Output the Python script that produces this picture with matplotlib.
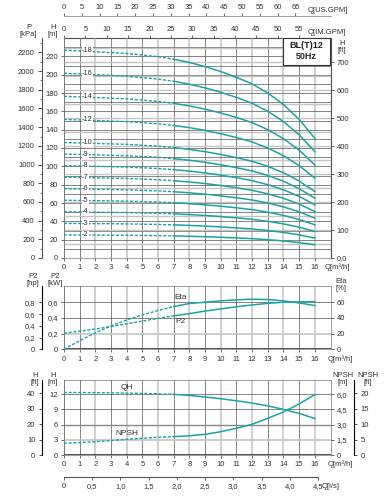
import numpy as np
import matplotlib
matplotlib.use('Agg')
import matplotlib.pyplot as plt
from matplotlib.patches import Rectangle

plt.rcParams['font.family'] = ['Liberation Sans', 'DejaVu Sans']
plt.rcParams['font.size'] = 5.5
plt.rcParams['text.color'] = '#333333'
plt.rcParams['xtick.color'] = '#333333'
plt.rcParams['ytick.color'] = '#333333'

# flow points [m3/h]
q = [0, 1, 2, 3, 4, 5, 6, 7, 8, 9, 10, 11, 12, 13, 14, 15, 16]
# head of one stage [m] (main chart)
h_stage = [12.6, 12.55, 12.5, 12.45, 12.4, 12.3, 12.2, 12.05, 11.85, 11.6,
           11.3, 10.95, 10.55, 10.0, 9.3, 8.4, 7.25]
stages = [18, 16, 14, 12, 10, 9, 8, 7, 6, 5, 4, 3, 2]
# power and efficiency
p2_kw = [0.205, 0.23, 0.258, 0.29, 0.325, 0.36, 0.393, 0.425, 0.455, 0.487,
         0.515, 0.542, 0.565, 0.585, 0.6, 0.605, 0.607]
eta = [0, 11, 21, 29.8, 37.4, 43.8, 49.4, 54.5, 58.3, 60, 61.7, 63, 63.8,
       63.4, 61.7, 59, 55.7]
# single stage QH and NPSH (bottom chart)
qh = [12.35, 12.33, 12.3, 12.27, 12.22, 12.15, 12.07, 11.97, 11.75, 11.45,
      11.1, 10.7, 10.25, 9.7, 9.0, 8.2, 7.2]
npsh = [1.16, 1.23, 1.31, 1.43, 1.55, 1.65, 1.75, 1.81, 1.9, 2.04, 2.3,
        2.64, 3.03, 3.62, 4.25, 5.04, 5.96]

teal = '#1aa3a6'
dark = '#555555'
light = '#c4c4c4'
W_PX, H_PX = 391, 500
K = 7  # index where dashed part ends


def ftxt(x, y, s, **kw):
    kw.setdefault('ha', 'center')
    kw.setdefault('va', 'center')
    fig.text(x / W_PX, 1 - y / H_PX, s, linespacing=0.95, **kw)


def curve(ax, x, y):
    ax.plot(x[:K + 1], y[:K + 1], color=teal, lw=1.0, dashes=(2.2, 1.2), zorder=3)
    ax.plot(x[K:], y[K:], color=teal, lw=1.1, zorder=3)


def style(ax):
    ax.set_xlim(0, 17)
    ax.set_xticks(range(0, 17))
    ax.tick_params(length=2.5, width=0.5, pad=2, labelsize=5.5)
    for i in range(0, 17):
        c, w = (light, 1.1) if i % 2 == 0 and i > 0 else (dark, 0.5)
        ax.axvline(i, color=c, lw=w, zorder=1)
    for s in ax.spines.values():
        s.set_color('#777777')
        s.set_linewidth(0.5)


fig = plt.figure(figsize=(3.91, 5.0), dpi=100)
L = 64 / W_PX
WD = 266.5 / W_PX
ax1 = fig.add_axes([L, 1 - 258 / H_PX, WD, 220 / H_PX])
ax2 = fig.add_axes([L, 1 - 349.3 / H_PX, WD, 63.6 / H_PX])
ax3 = fig.add_axes([L, 1 - 455 / H_PX, WD, 75 / H_PX])

# ---------------- main chart ----------------
style(ax1)
ax1.set_ylim(0, 240)
ax1.set_yticks(range(0, 221, 20))
for m in range(10, 240, 10):
    ax1.axhline(m, color=dark, lw=0.5, zorder=1)
for ft in range(50, 790, 50):
    ax1.axhline(ft * 0.3048, color=light, lw=1.0, zorder=1)
for n in stages:
    hh = [n * h for h in h_stage]
    curve(ax1, q, hh)
    ax1.text(1.15, n * h_stage[1], '-' + str(n), fontsize=5.3, va='center', ha='left',
             bbox=dict(facecolor='white', edgecolor='none', pad=0.3), zorder=4)

ax1.add_patch(Rectangle((14.0, 211), 2.95, 29, facecolor='white', edgecolor='#333333',
                        lw=0.8, zorder=5))
ax1.text(15.47, 225.5, 'BL(T)12\n50Hz', ha='center', va='center', fontsize=6.5,
         fontweight='bold', zorder=6, linespacing=1.3, color='#222222')

kpa = ax1.secondary_yaxis(-0.084, functions=(lambda h: h * 9.81, lambda p: p / 9.81))
kpa.set_yticks(range(0, 2201, 200))
kpa.set_yticks(range(0, 2301, 100), minor=True)
kpa.tick_params(length=3, width=0.6, labelsize=5.5, pad=2)
kpa.tick_params(which='minor', length=1.8, width=0.5)
kpa.spines['left'].set_color('#555555')

hft = ax1.secondary_yaxis('right', functions=(lambda h: h / 0.3048, lambda f: f * 0.3048))
hft.set_yticks(range(0, 701, 100))
hft.set_yticklabels(['0,0'] + [str(v) for v in range(100, 701, 100)])
hft.tick_params(length=2.5, width=0.5, labelsize=5.5, pad=2)

im = ax1.secondary_xaxis('top', functions=(lambda x: x * 3.6662, lambda g: g / 3.6662))
im.set_xticks(range(0, 56, 5))
im.tick_params(length=2, width=0.5, labelsize=5.5, pad=1.5)
us = ax1.secondary_xaxis(1.1, functions=(lambda x: x * 4.4029, lambda g: g / 4.4029))
us.set_xticks(range(0, 66, 5))
us.tick_params(length=2, width=0.5, labelsize=5.5, pad=1.5)
us.spines['top'].set_color('#777777')
us.spines['top'].set_linewidth(0.5)

ftxt(28.5, 31, 'P\n[kPa]')
ftxt(53, 31, 'H\n[m]')
ftxt(342, 47, 'H\n[ft]')
ftxt(308, 11, 'Q[US.GPM]', ha='left')
ftxt(308, 32, 'Q[IM.GPM]', ha='left')
ftxt(325, 267, 'Q[m³/h]', ha='left')

# ---------------- power / efficiency ----------------
style(ax2)
ax2.set_ylim(0, 0.81)
ax2.set_yticks([0, 0.2, 0.4, 0.6])
ax2.set_yticklabels(['0', '0,2', '0,4', '0,6'])
ax2.axhline(0.2, color=light, lw=1.2, zorder=1)
ax2.axhline(0.4, color=dark, lw=0.5, zorder=1)
ax2.axhline(0.6, color=dark, lw=0.5, zorder=1)
ax2.axhline(0, color='#333333', lw=1.2, zorder=2)
ax_eta = ax2.twinx()
ax_eta.set_ylim(0, 81)
ax_eta.set_yticks([0, 20, 40, 60])
ax_eta.tick_params(length=2.5, width=0.5, labelsize=5.5, pad=2)
for s in ax_eta.spines.values():
    s.set_visible(False)
curve(ax2, q, p2_kw)
curve(ax_eta, q, eta)
ax2.text(7.05, 0.655, 'Eta', fontsize=6, ha='left', va='center')
ax2.text(7.1, 0.36, 'P2', fontsize=6, ha='left', va='center')

hp = ax2.secondary_yaxis(-0.084, functions=(lambda k: k / 0.7457, lambda h: h * 0.7457))
hp.set_yticks([0, 0.2, 0.4, 0.6, 0.8])
hp.set_yticklabels(['0', '0,2', '0,4', '0,6', '0,8'])
hp.tick_params(length=2.5, width=0.6, labelsize=5.5, pad=2)
ftxt(33, 280, 'P2\n[hp]')
ftxt(55, 280, 'P2\n[kW]')
ftxt(341, 285, 'Eta\n[%]')
ftxt(328, 359, 'Q[m³/h]', ha='left')

# ---------------- QH / NPSH ----------------
style(ax3)
ax3.set_ylim(0, 14.8)
ax3.set_yticks([0, 3, 6, 9, 12])
ax3.axhline(3, color=light, lw=1.2, zorder=1)
ax3.axhline(6, color='#888888', lw=1.0, zorder=1)
ax3.axhline(9, color=dark, lw=0.5, zorder=1)
ax3.axhline(12, color=dark, lw=0.5, zorder=1)
ax3.axhline(0, color='#333333', lw=1.2, zorder=2)
ax_np = ax3.twinx()
ax_np.set_ylim(0, 7.4)
ax_np.set_yticks([0, 1.5, 3, 4.5, 6])
ax_np.set_yticklabels(['0', '1,5', '3,0', '4,5', '6,0'])
ax_np.tick_params(length=2.5, width=0.5, labelsize=5.5, pad=2)
for s in ax_np.spines.values():
    s.set_visible(False)
curve(ax3, q, qh)
curve(ax_np, q, npsh)
ax3.text(4.0, 13.3, 'QH', fontsize=6, ha='center', va='center')
ax3.text(4.0, 4.3, 'NPSH', fontsize=6, ha='center', va='center')

hft3 = ax3.secondary_yaxis(-0.084, functions=(lambda h: h / 0.3048, lambda f: f * 0.3048))
hft3.set_yticks([0, 10, 20, 30, 40])
hft3.tick_params(length=2.5, width=0.6, labelsize=5.5, pad=2)
npft = ax_np.secondary_yaxis(1.09, functions=(lambda m: m / 0.3048, lambda f: f * 0.3048))
npft.set_yticks([0, 5, 10, 15, 20])
npft.tick_params(length=2.5, width=0.6, labelsize=5.5, pad=2)

ls = ax3.secondary_xaxis(-0.289, functions=(lambda x: x / 3.6, lambda l: l * 3.6))
ls.set_xticks([0, 0.5, 1, 1.5, 2, 2.5, 3, 3.5, 4, 4.5])
ls.set_xticklabels(['0', '0,5', '1,0', '1,5', '2,0', '2,5', '3,0', '3,5', '4,0', '4,5'])
ls.tick_params(length=2.5, width=0.5, labelsize=5.5, pad=2)
ls.spines['bottom'].set_bounds(0, 4.5)
ls.spines['bottom'].set_color('#555555')

ftxt(35, 379, 'H\n[ft]')
ftxt(53, 379, 'H\n[m]')
ftxt(343, 379, 'NPSH\n[m]')
ftxt(368, 379, 'NPSH\n[ft]')
ftxt(328, 464, 'Q[m³/h]', ha='left')
ftxt(322, 487, 'Q[l/s]', ha='left')

fig.savefig('out.png', dpi=100)
